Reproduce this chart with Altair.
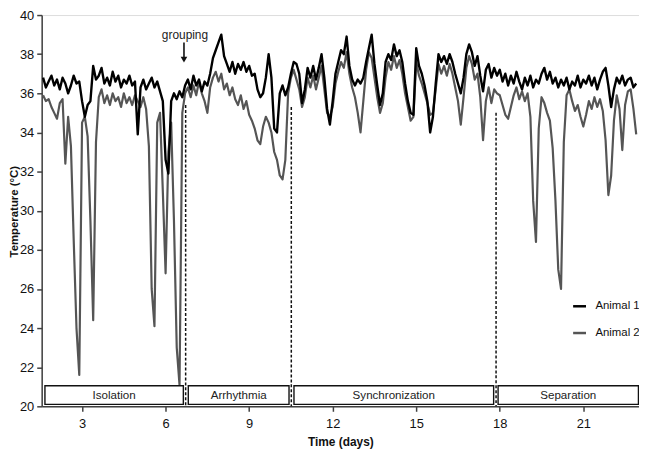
import altair as alt
import pandas as pd

# sampling grid of the readings (days)
START_DAY = 1.6
STEP_DAY = 0.1

# Animal 1 (black) body temperature, one value per 0.1 day from day 1.6
ANIMAL1 = [
    36.8, 36.3, 36.6, 36.9, 36.4, 36.7, 36.2, 36.8, 36.5, 36.0,   # 1.6-2.5
    36.4, 36.9, 36.5, 36.6, 35.6, 34.8, 35.4, 35.6, 37.4, 36.7,   # 2.6-3.5
    36.9, 37.3, 36.5, 36.8, 36.4, 37.1, 36.6, 36.9, 36.3, 36.7,   # 3.6-4.5
    36.5, 36.9, 36.4, 36.6, 33.9, 36.3, 36.7, 36.2, 36.5, 36.8,   # 4.6-5.5
    36.3, 36.6, 36.1, 35.6, 32.6, 31.9, 35.6, 36.0, 35.7, 36.1,   # 5.6-6.5
    35.8, 36.4, 36.7, 36.2, 36.9, 36.4, 36.7, 36.1, 36.6, 36.4,   # 6.6-7.5
    37.0, 37.8, 38.2, 38.6, 39.0, 37.9, 37.5, 37.1, 37.6, 37.0,   # 7.6-8.5
    37.5, 37.2, 37.6, 37.1, 37.4, 36.9, 37.0, 36.2, 35.8, 36.0,   # 8.6-9.5
    36.8, 38.0, 36.8, 34.2, 34.0, 36.0, 36.4, 35.9, 36.3, 37.0,   # 9.6-10.5
    37.6, 37.5, 37.0, 35.5, 36.2, 37.3, 36.8, 37.4, 36.7, 37.3,   # 10.6-11.5
    38.0, 36.8, 35.2, 34.4, 35.6, 37.0, 37.6, 38.2, 38.0, 38.9,   # 11.6-12.5
    37.4, 36.7, 36.4, 36.7, 36.5, 36.8, 37.6, 38.3, 39.0, 37.5,   # 12.6-13.5
    36.4, 35.4, 36.0, 37.6, 38.0, 37.7, 38.5, 37.9, 38.2, 37.6,   # 13.6-14.5
    36.5, 35.6, 35.0, 34.9, 38.3, 37.4, 37.0, 36.4, 35.6, 34.0,   # 14.6-15.5
    34.8, 36.5, 38.0, 37.6, 37.9, 37.5, 38.0, 37.6, 37.0, 36.5,   # 15.6-16.5
    36.0, 36.8, 38.0, 38.5, 38.1, 37.4, 37.9, 36.9, 36.1, 37.2,   # 16.6-17.5
    37.5, 36.8, 37.3, 36.9, 37.2, 36.6, 37.0, 36.4, 36.9, 36.5,   # 17.6-18.5
    37.1, 36.6, 36.2, 36.8, 36.4, 36.9, 36.3, 36.7, 36.5, 37.0,   # 18.6-19.5
    37.3, 36.7, 37.1, 36.5, 36.8, 36.3, 36.7, 36.4, 36.8, 36.2,   # 19.6-20.5
    36.6, 36.4, 36.9, 36.3, 36.7, 36.5, 36.9, 36.4, 36.8, 36.2,   # 20.6-21.5
    36.7, 37.1, 37.3, 36.4, 35.3, 36.2, 36.8, 36.5, 36.9, 36.4,   # 21.6-22.5
    36.7, 36.8, 36.3, 36.5,                                       # 22.6-22.9
]

# Animal 2 (grey) body temperature, same grid
ANIMAL2 = [
    35.9, 35.6, 35.7, 35.3, 35.0, 34.7, 35.5, 35.7, 32.4, 34.8,   # 1.6-2.5
    33.3, 28.5, 24.0, 21.6, 34.5, 34.8, 33.8, 29.5, 24.4, 33.5,   # 2.6-3.5
    35.8, 36.2, 35.5, 35.9, 35.4, 36.0, 35.6, 35.8, 35.3, 36.0,   # 3.6-4.5
    35.5, 35.8, 35.4, 35.9, 35.6, 35.3, 35.8, 35.2, 33.3, 26.0,   # 4.6-5.5
    24.1, 34.5, 35.0, 31.0, 26.8, 33.0, 34.5, 29.5, 23.0, 21.1,   # 5.6-6.5
    35.0, 36.0, 36.3, 35.8, 36.4, 35.9, 36.6, 36.0, 35.6, 35.0,   # 6.6-7.5
    36.3, 36.8, 37.1, 36.6, 37.0, 36.2, 36.5, 35.9, 36.3, 35.7,   # 7.6-8.5
    35.4, 35.9, 35.2, 35.6, 34.9, 34.6, 34.2, 33.6, 33.4, 34.3,   # 8.6-9.5
    34.8, 34.5, 34.0, 33.0, 32.6, 31.8, 31.6, 32.6, 36.0, 36.8,   # 9.6-10.5
    37.2, 36.7, 36.2, 35.3, 35.8, 36.8, 36.3, 36.9, 36.2, 36.8,   # 10.6-11.5
    37.4, 36.2, 35.0, 34.8, 35.3, 36.5, 37.1, 37.6, 37.3, 38.1,   # 11.6-12.5
    37.0, 36.3, 35.8, 35.0, 34.0, 35.6, 37.2, 38.1, 37.8, 36.8,   # 12.6-13.5
    35.8, 35.0, 35.5, 36.8, 37.6, 37.2, 37.9, 37.3, 37.7, 37.0,   # 13.6-14.5
    36.0, 35.3, 34.6, 34.8, 37.6, 36.9, 36.5, 36.0, 35.5, 34.9,   # 14.6-15.5
    35.0, 36.2, 37.5, 37.0, 37.4, 36.9, 37.5, 37.0, 36.3, 35.6,   # 15.6-16.5
    34.4, 35.8, 37.3, 37.9, 37.5, 36.7, 37.0, 35.8, 33.6, 35.6,   # 16.6-17.5
    36.3, 35.5, 36.2, 36.0, 35.9, 35.4, 34.9, 34.7, 35.3, 35.9,   # 17.6-18.5
    36.3, 35.7, 36.1, 35.6, 36.0, 34.8, 30.5, 28.4, 34.2, 35.8,   # 18.6-19.5
    35.5, 35.0, 34.6, 33.2, 30.5, 27.0, 26.0, 33.5, 35.9, 36.2,   # 19.6-20.5
    35.6, 35.1, 35.4, 34.8, 34.3, 34.9, 35.6, 35.2, 35.8, 35.3,   # 20.6-21.5
    35.7, 35.1, 33.6, 30.8, 31.8, 34.6, 35.9, 35.2, 33.1, 35.4,   # 21.6-22.5
    36.1, 36.2, 35.2, 33.9,                                       # 22.6-22.9
]

assert len(ANIMAL1) == len(ANIMAL2)
DAYS = [round(START_DAY + STEP_DAY * i, 1) for i in range(len(ANIMAL1))]

SERIES_NAMES = ["Animal 1", "Animal 2"]
SERIES_COLORS = ["#000000", "#555555"]

PHASES = ["Isolation", "Arrhythmia", "Synchronization", "Separation"]
PHASE_START = [1.667, 6.815, 10.61, 17.94]
PHASE_END = [6.637, 10.432, 17.78, 22.98]

BOUNDARY_DAYS = [6.72, 10.514, 17.867]
BOUNDARY_TOP = [35.4, 35.3, 35.0]

GROUPING_LABEL = ["grouping"]
GROUPING_DAY = [6.66]

X_TICKS = [3, 6, 9, 12, 15, 18, 21]
Y_TICKS = [20, 22, 24, 26, 28, 30, 32, 34, 36, 38, 40]

FONT = "Liberation Sans"

df1 = pd.DataFrame({"day": DAYS, "temp": ANIMAL1, "animal": SERIES_NAMES[0]})
df2 = pd.DataFrame({"day": DAYS, "temp": ANIMAL2, "animal": SERIES_NAMES[1]})
phases = pd.DataFrame({
    "phase": PHASES,
    "start": PHASE_START,
    "end": PHASE_END,
    "mid": [(a + b) / 2 for a, b in zip(PHASE_START, PHASE_END)],
})
bounds = pd.DataFrame({"day": BOUNDARY_DAYS, "top": BOUNDARY_TOP})
grouping = pd.DataFrame({"label": GROUPING_LABEL, "day": GROUPING_DAY})

x_scale = alt.Scale(domain=[1.55, 23.0], nice=False, zero=False)
y_scale = alt.Scale(domain=[20, 40], nice=False, zero=False)
color_scale = alt.Scale(domain=SERIES_NAMES, range=SERIES_COLORS)

x_axis = alt.Axis(
    values=X_TICKS, tickSize=5, tickWidth=1.5, tickColor="#404040",
    domainColor="#404040", domainWidth=1.5, labelPadding=6,
    labelFontSize=13, labelColor="#111111", labelFont=FONT,
    titleFont=FONT, titleFontSize=12, titleFontWeight="bold",
    titleColor="#111111", titlePadding=7, grid=False, labelOverlap=False,
)
y_axis = alt.Axis(
    values=Y_TICKS, tickSize=5, tickWidth=1.5, tickColor="#404040",
    domainColor="#404040", domainWidth=1.5, labelPadding=3,
    labelFontSize=13, labelColor="#111111", labelFont=FONT,
    titleFont=FONT, titleFontSize=11.5, titleFontWeight="bold",
    titleColor="#111111", titleAngle=270, titleX=-27, titleY=198,
    titleAlign="center", titleBaseline="middle", grid=False,
    labelOverlap=False,
)
legend = alt.Legend(
    title=None, orient="none", legendX=535, legendY=286,
    symbolType="stroke", symbolSize=169, symbolStrokeWidth=2.5,
    labelFont=FONT, labelFontSize=11.5, labelColor="#111111",
    rowPadding=13, padding=0, labelOffset=8,
)

X_TITLE = "Time (days)"
Y_TITLE = "Temperature (°C)"


def xq(field):
    return alt.X(field, type="quantitative", scale=x_scale, axis=x_axis, title=X_TITLE)


def yq(field):
    return alt.Y(field, type="quantitative", scale=y_scale, axis=y_axis, title=Y_TITLE)


def yd(value):
    return alt.YDatum(value, type="quantitative", scale=y_scale, axis=y_axis, title=Y_TITLE)


col = alt.Color("animal:N", scale=color_scale, legend=legend)

line2 = alt.Chart(df2).mark_line(strokeWidth=2.2, strokeJoin="round").encode(
    x=xq("day"), y=yq("temp"), color=col
)
line1 = alt.Chart(df1).mark_line(strokeWidth=2.4, strokeJoin="round").encode(
    x=xq("day"), y=yq("temp"), color=col
)

dashes = alt.Chart(bounds).mark_rule(
    color="#111111", strokeWidth=1.5, strokeDash=[3, 2]
).encode(x=xq("day"), y=yq("top"), y2=alt.datum(20))

boxes = alt.Chart(phases).mark_rect(
    fill="white", stroke="#111111", strokeWidth=1.4
).encode(x=xq("start"), x2="end", y=yd(20.1), y2=alt.datum(21.05))

box_text = alt.Chart(phases).mark_text(
    font=FONT, fontSize=11.7, color="#222222", baseline="middle", align="center"
).encode(x=xq("mid"), y=yd(20.56), text="phase:N")

arrow_shaft = alt.Chart(grouping).mark_rule(color="#111111", strokeWidth=1.6).encode(
    x=xq("day"), y=yd(38.6), y2=alt.datum(37.85)
)
arrow_head = alt.Chart(grouping).mark_point(
    shape="triangle-down", filled=True, size=45, color="#111111", opacity=1
).encode(x=xq("day"), y=yd(37.72))
grouping_text = alt.Chart(grouping).mark_text(
    font=FONT, fontSize=12, fontWeight="normal", color="#222222",
    baseline="alphabetic", align="center", dx=1
).encode(x=xq("day"), y=yd(38.8), text="label:N")

chart = alt.layer(
    dashes, line2, line1, boxes, box_text, arrow_shaft, arrow_head, grouping_text
).properties(
    width=603, height=395,
    autosize=alt.AutoSizeParams(type="none"),
    padding={"left": 34, "top": 5, "right": 0, "bottom": 45},
).configure_view(stroke=None).configure_axis(
    labelOverlap=False
).configure(background="white")

chart.save("out.html", embed_options={"renderer": "svg", "actions": False})
